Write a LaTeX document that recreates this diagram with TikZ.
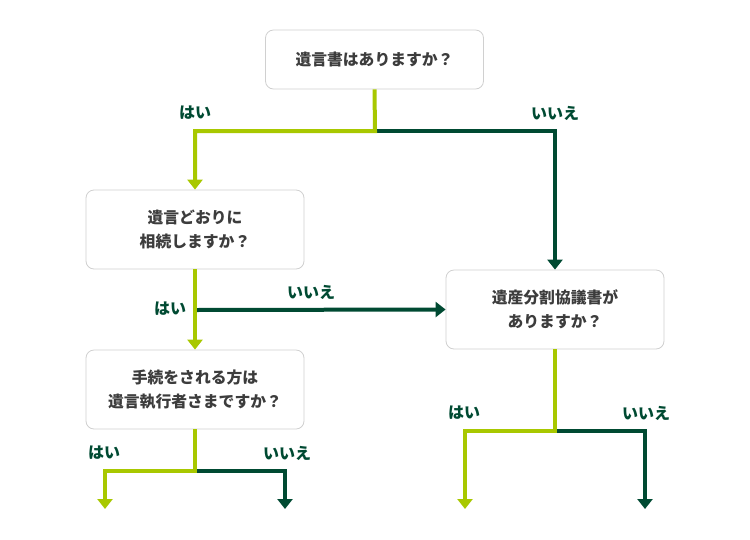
\documentclass[tikz,border=0pt]{standalone}
\usepackage{fontspec}
\setmainfont{Noto Sans CJK JP}
\usetikzlibrary{arrows.meta}
\definecolor{lg}{RGB}{168,200,0}
\definecolor{dg}{RGB}{0,74,50}
\definecolor{txt}{RGB}{60,60,60}
\definecolor{bd}{RGB}{208,208,208}
\begin{document}
\begin{tikzpicture}[x=1pt,y=-1pt,
  box/.style={draw=bd, line width=0.8pt, rounded corners=8pt, minimum width=218pt,
    text=txt, font=\fontsize{15.8}{24}\selectfont\bfseries, align=center, inner sep=0pt},
  box1/.style={box, minimum height=59pt},
  box2/.style={box, minimum height=79pt},
  lab/.style={text=dg, font=\fontsize{16}{16}\selectfont\bfseries, inner sep=0pt},
  lgline/.style={draw=lg, line width=4pt, line join=miter},
  dgline/.style={draw=dg, line width=4pt, line join=miter},
  tip/.style={-{Triangle[width=15pt,length=10pt]}}
]
\path[use as bounding box] (0,0) rectangle (750,539);

\node[box1] (b1) at (374.5,59.5) {遺言書はありますか？};
\node[box2] (b2) at (195,229.5) {遺言どおりに\\相続しますか？};
\node[box2] (b3) at (195,389.5) {手続をされる方は\\遺言執行者さまですか？};
\node[box2] (b4) at (555,309.5) {遺産分割協議書が\\ありますか？};

\coordinate (s1) at (375,131);
\coordinate (s2) at (195,310);
\coordinate (s3) at (195,471);
\coordinate (s4) at (555,431);
\coordinate (e3l) at (105,509);
\coordinate (e3r) at (285,509);
\coordinate (e4l) at (465,509);
\coordinate (e4r) at (645,509);

% top split
\draw[dgline, tip] (s1) -| (b4.north);
\draw[lgline, tip] (b1.south) -- (s1) -| (b2.north);
\node[lab] (l1y) at (195,113) {はい};
\node[lab] (l1n) at (555,113) {いいえ};

% box2
\draw[dgline, tip] (s2) -- (b4.west);
\draw[lgline, tip] (b2.south) -- (b3.north);
\node[lab] (l2y) at (170,309) {はい};
\node[lab] (l2n) at (311,292) {いいえ};

% box3
\draw[dgline, tip] (s3) -| (e3r);
\draw[lgline, tip] (b3.south) -- (s3) -| (e3l);
\node[lab] (l3y) at (104,453) {はい};
\node[lab] (l3n) at (287,453) {いいえ};

% box4
\draw[dgline, tip] (s4) -| (e4r);
\draw[lgline, tip] (b4.south) -- (s4) -| (e4l);
\node[lab] (l4y) at (464,413) {はい};
\node[lab] (l4n) at (646,413) {いいえ};
\end{tikzpicture}
\end{document}
